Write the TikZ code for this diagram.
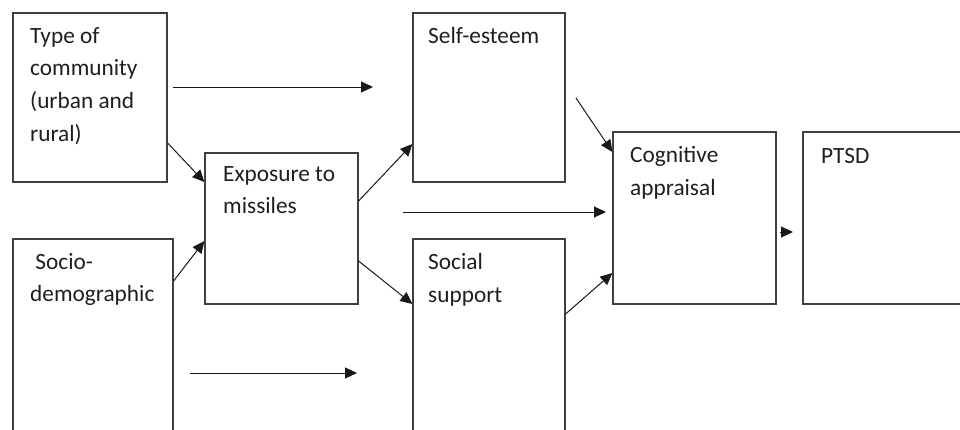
\documentclass[tikz,border=0pt]{standalone}
\usepackage{fontspec}
\setmainfont{Carlito}
\usetikzlibrary{arrows.meta}

\begin{document}
\begin{tikzpicture}[
  x=1pt, y=-1pt,
  box/.style={draw=black!75, line width=1.2pt, rectangle, inner sep=0pt},
  lbl/.style={anchor=north west, inner sep=0pt, align=left, text=black!88,
              font=\fontsize{23.3}{32.7}\selectfont,
              execute at begin node={\rule{0pt}{17pt}}},
  arr/.style={-{Triangle[length=12pt, width=11pt]}, black!90, line width=1pt},
]
\useasboundingbox (0,0) rectangle (960,429);
\clip (0,0) rectangle (960,429);

% ---------------- boxes -------------------------------------------------
\foreach \n/\x/\y/\w/\h in {type/90/97.5/154/169, socio/93/354.5/160/231,
    expo/281.5/228.5/153/151, self/489/97.5/152/169, social/489/354.5/152/231,
    cogn/694.5/218/163/172, ptsd/901.5/218/197/172} {
  \node[box, minimum width=\w pt, minimum height=\h pt] (\n) at (\x,\y) {};
}

% ---------------- labels ------------------------------------------------
\node[lbl] (type-l) at (30,27) {Type of\\community\\(urban and\\rural)};
\node[lbl] (socio-l) at (30,253) {\ Socio-\\demographic};
\node[lbl] (expo-l) at (223,166) {Exposure to\\missiles};
\node[lbl] (self-l) at (428,26) {Self-esteem};
\node[lbl] (social-l) at (428,253) {Social\\support};
\node[lbl] (cogn-l) at (630,146) {Cognitive\\appraisal};
\node[lbl] (ptsd-l) at (821,146) {PTSD};

% ---------------- free ends ---------------------------------------------
\coordinate (ts1) at (173,87);   \coordinate (ts2) at (373,87);
\coordinate (ss1) at (190,373);  \coordinate (ss2) at (357,373);
\coordinate (ec1) at (403,212);  \coordinate (ec2) at (606,212);
\coordinate (sc1) at (576,98);
\coordinate (cp1) at (780,232);  \coordinate (cp2) at (793,232);

% ---------------- paths -------------------------------------------------
\draw[arr] (ts1) -- (ts2);
\draw[arr] (type.east |- 0,143) -- (expo.west |- 0,182);
\draw[arr] (socio.east |- 0,281) -- (expo.west |- 0,241);
\draw[arr] (ss1) -- (ss2);
\draw[arr] (expo.east |- 0,201) -- (self.west |- 0,144);
\draw[arr] (expo.east |- 0,261) -- (social.west |- 0,304);
\draw[arr] (ec1) -- (ec2);
\draw[arr] (sc1) -- (cogn.west |- 0,152);
\draw[arr] (social.east |- 0,314) -- (cogn.west |- 0,273);
\draw[arr] (cp1) -- (cp2);

\end{tikzpicture}
\end{document}
